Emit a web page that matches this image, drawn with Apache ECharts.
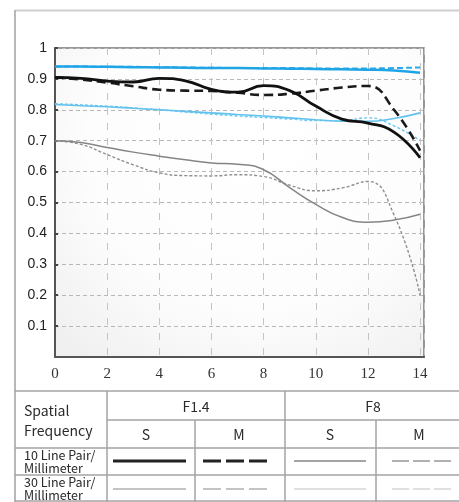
<!DOCTYPE html>
<html>
<head>
<meta charset="utf-8">
<script src="https://cdn.jsdelivr.net/npm/echarts@6/dist/echarts.min.js"></script>
<style>
	html, body { margin: 0; padding: 0; background: #fff; }
	#chart { width: 459px; height: 502px; }
</style>
</head>
<body>
<div id="chart"></div>
<script>
	// spatial position from image centre (mm)
	var xs = [0, 1, 2, 3, 4, 5, 6, 7, 8, 9, 10, 11, 12, 13, 14];
	var yTicks = [0.1, 0.2, 0.3, 0.4, 0.5, 0.6, 0.7, 0.8, 0.9, 1];

	// F1.4
	var f14_10_s = [0.905, 0.902, 0.893, 0.89, 0.902, 0.894, 0.866, 0.857, 0.878, 0.862, 0.812, 0.77, 0.757, 0.728, 0.645];
	var f14_10_m = [0.905, 0.898, 0.888, 0.876, 0.865, 0.862, 0.861, 0.855, 0.848, 0.852, 0.862, 0.872, 0.877, 0.8, 0.668];
	var f14_30_s = [0.70, 0.694, 0.678, 0.663, 0.65, 0.638, 0.628, 0.624, 0.606, 0.548, 0.494, 0.452, 0.436, 0.443, 0.462];
	var f14_30_m = [0.70, 0.688, 0.655, 0.622, 0.596, 0.587, 0.586, 0.59, 0.584, 0.556, 0.538, 0.547, 0.568, 0.46, 0.2];
	// F8
	var f8_10_s = [0.94, 0.94, 0.939, 0.938, 0.937, 0.936, 0.935, 0.935, 0.934, 0.933, 0.932, 0.931, 0.93, 0.927, 0.92];
	var f8_10_m = [0.94, 0.94, 0.939, 0.939, 0.938, 0.937, 0.936, 0.935, 0.935, 0.935, 0.934, 0.934, 0.934, 0.935, 0.937];
	var f8_30_s = [0.817, 0.813, 0.81, 0.805, 0.8, 0.795, 0.79, 0.785, 0.78, 0.774, 0.768, 0.763, 0.763, 0.772, 0.79];
	var f8_30_m = [0.82, 0.816, 0.812, 0.806, 0.8, 0.793, 0.786, 0.78, 0.775, 0.77, 0.765, 0.765, 0.774, 0.748, 0.70];

	function pairs(vals) {
		return vals.map(function (v, i) { return [xs[i], v]; });
	}

	function mk(name, vals, color, width, dash) {
		return {
			name: name,
			type: 'line',
			data: pairs(vals),
			smooth: 0.5,
			showSymbol: false,
			silent: true,
			lineStyle: { color: color, width: width, type: dash || 'solid' }
		};
	}

	var tableFont = '"Noto Sans CJK SC", "Noto Sans", sans-serif';
	var lineCol = '#a3a3a3';

	function hline(x1, x2, y) {
		return { type: 'line', shape: { x1: x1, y1: y, x2: x2, y2: y }, style: { stroke: lineCol, lineWidth: 1.5 } };
	}
	function vline(x, y1, y2) {
		return { type: 'line', shape: { x1: x, y1: y1, x2: x, y2: y2 }, style: { stroke: lineCol, lineWidth: 1.5 } };
	}
	function txt(s, x, y, size, align) {
		return {
			type: 'text', x: x, y: y,
			style: { text: s, fill: '#2a2a2a', font: size + 'px ' + tableFont, align: align || 'left', verticalAlign: 'middle' }
		};
	}
	function sample(x1, x2, y, color, width, dash) {
		return {
			type: 'line', shape: { x1: x1, y1: y, x2: x2, y2: y },
			style: { stroke: color, lineWidth: width, lineDash: dash || null }
		};
	}

	var graphics = [
		// outer frame
		{ type: 'line', shape: { x1: 15, y1: 10.5, x2: 459, y2: 10.5 }, style: { stroke: '#cfcfcf', lineWidth: 2 } },
		{ type: 'line', shape: { x1: 15, y1: 10, x2: 15, y2: 502 }, style: { stroke: '#b8b8b8', lineWidth: 2 } },
		// table grid
		hline(15, 459, 391),
		hline(107, 459, 420),
		hline(15, 459, 448),
		hline(15, 459, 475),
		hline(15, 459, 501),
		vline(107, 391, 502),
		vline(195, 420, 502),
		vline(285, 391, 502),
		vline(376, 420, 502),
		// texts
		txt('Spatial', 24, 411, 14),
		txt('Frequency', 24, 431, 14),
		txt('F1.4', 196, 407, 14, 'center'),
		txt('F8', 373, 407, 14, 'center'),
		txt('S', 146, 435, 14, 'center'),
		txt('M', 239, 435, 14, 'center'),
		txt('S', 330, 435, 14, 'center'),
		txt('M', 419, 435, 14, 'center'),
		txt('10 Line Pair/', 24, 455, 12.5),
		txt('Millimeter', 24, 468, 12.5),
		txt('30 Line Pair/', 24, 482, 12.5),
		txt('Millimeter', 24, 495, 12.5),
		// line samples
		sample(113, 186, 461, '#222', 3),
		sample(203, 271, 461, '#222', 3, [18, 5]),
		sample(294, 366, 461, '#a5a5a5', 2),
		sample(392, 451, 461, '#b0b0b0', 2, [17, 4]),
		sample(113, 186, 489, '#c4c4c4', 2),
		sample(203, 271, 489, '#c4c4c4', 2, [18, 5]),
		sample(294, 366, 489, '#e0e0e0', 2),
		sample(392, 451, 489, '#e0e0e0', 2, [17, 4])
	];

	var option = {
		animation: false,
		backgroundColor: '#fff',
		grid: {
			left: 55,
			top: 48,
			right: 35,
			bottom: 145,
			show: true,
			borderColor: '#777',
			borderWidth: 1.5,
			backgroundColor: new echarts.graphic.RadialGradient(0.55, 0.3, 0.9, [
				{ offset: 0, color: '#ffffff' },
				{ offset: 0.6, color: '#fdfdfd' },
				{ offset: 1, color: '#f0f0f0' }
			])
		},
		xAxis: {
			type: 'value',
			min: 0,
			max: 14.15,
			interval: 2,
			axisLine: { lineStyle: { color: '#555', width: 2 } },
			axisTick: { show: false },
			axisLabel: {
				color: '#333',
				fontFamily: 'Liberation Serif',
				fontSize: 15,
				margin: 10,
				formatter: function (v) { return v % 2 === 0 ? String(v) : ''; }
			},
			splitLine: { show: true, lineStyle: { color: '#c4c4c4', type: [7, 8], width: 1 } }
		},
		yAxis: {
			type: 'value',
			min: 0,
			max: 1,
			interval: 0.1,
			axisLine: { show: true, lineStyle: { color: '#555', width: 2 } },
			axisTick: { show: true, inside: true, length: 3, lineStyle: { color: '#444', width: 2 } },
			axisLabel: {
				color: '#222',
				fontFamily: 'Liberation Sans',
				fontSize: 14,
				margin: 8,
				showMinLabel: false,
				formatter: function (v) {
					var r = Math.round(v * 10) / 10;
					if (yTicks.indexOf(r) < 0) return '';
					return r === 1 ? '1' : r.toFixed(1);
				}
			},
			splitLine: { show: true, lineStyle: { color: '#b8b8b8', type: [4, 3], width: 1 } }
		},
		series: [
			mk('F1.4 30 M', f14_30_m, '#8f8f8f', 1.4, [3, 2]),
			mk('F1.4 30 S', f14_30_s, '#858585', 1.5),
			mk('F8 30 M', f8_30_m, '#6fc8f0', 1.4, [3, 2]),
			mk('F8 30 S', f8_30_s, '#62c2ee', 1.6),
			mk('F8 10 M', f8_10_m, '#2aaae8', 2, [6, 3]),
			mk('F8 10 S', f8_10_s, '#1fa5e6', 2.5),
			mk('F1.4 10 M', f14_10_m, '#1a1a1a', 2.6, [9, 5]),
			mk('F1.4 10 S', f14_10_s, '#111', 2.8)
		],
		graphic: graphics
	};

	var myChart = echarts.init(document.getElementById('chart'));
	myChart.setOption(option);
</script>
</body>
</html>
